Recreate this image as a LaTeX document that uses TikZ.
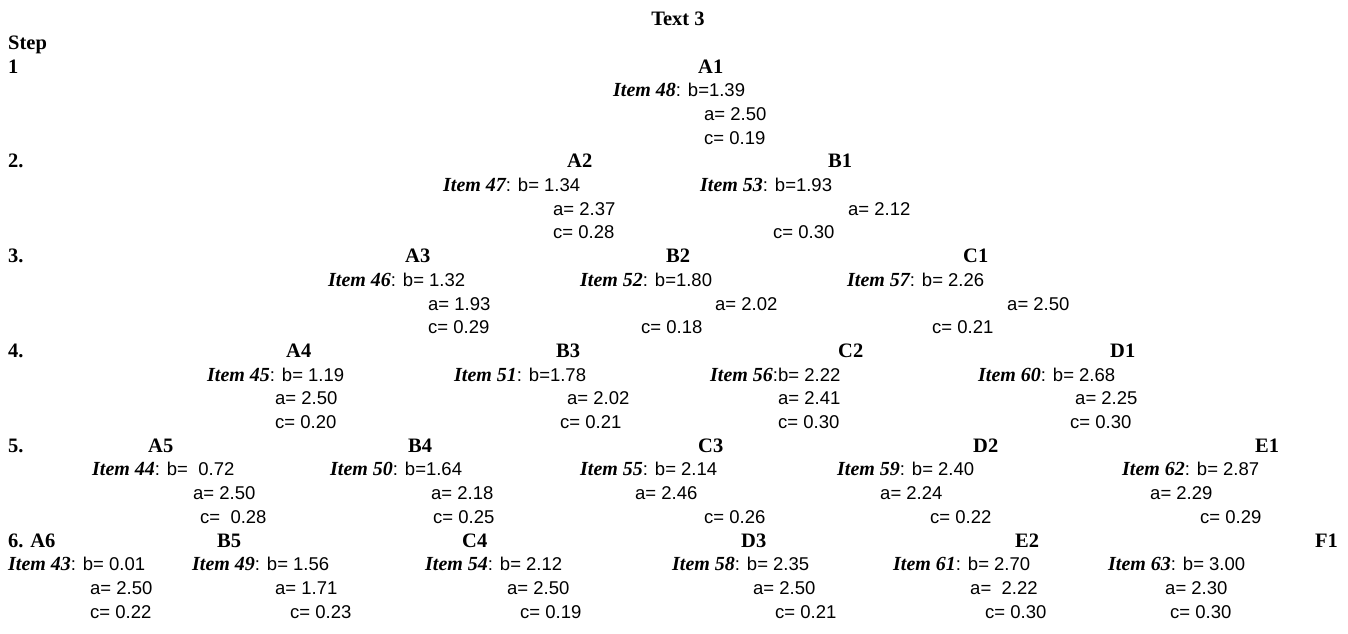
\documentclass[tikz,border=0pt]{standalone}
\usepackage{fontspec}
\setmainfont{Liberation Serif}
\newfontfamily\valfont{Liberation Sans}
\tikzset{
  hd/.style={anchor=base west, inner sep=0pt, font=\rmfamily\bfseries\fontsize{20.5}{22}\selectfont},
  vl/.style={anchor=base west, inner sep=0pt, font=\valfont\fontsize{18.5}{22}\selectfont},
}
\newcommand{\itm}[1]{{\rmfamily\bfseries\itshape\fontsize{20}{22}\selectfont Item #1}}
\begin{document}
\begin{tikzpicture}[x=1pt,y=-1pt]
\useasboundingbox[fill=white] (0,0) rectangle (1348,633);
\node[hd,anchor=base] (title) at (678,25.6) {Text 3};
\node[hd] (step) at (8,49.3) {Step};
% step labels
\node[hd] (s1) at (8,73) {1};
\node[hd] (s2) at (8,167.8) {2.};
\node[hd] (s3) at (8,262.6) {3.};
\node[hd] (s4) at (8,357.4) {4.};
\node[hd] (s5) at (8,452.2) {5.};
\node[hd] (s6) at (8,547) {6. A6};
% step 1
\node[hd] (A1) at (698,73) {A1};
\node[vl] (A1i) at (613,96.7) {\itm{48}: b=1.39};
\node[vl] (A1a) at (704,120.4) {a= 2.50};
\node[vl] (A1c) at (704,144.1) {c= 0.19};
% step 2
\node[hd] (A2) at (567,167.8) {A2};
\node[vl] (A2i) at (443,191.5) {\itm{47}: b= 1.34};
\node[vl] (A2a) at (553,215.2) {a= 2.37};
\node[vl] (A2c) at (553,238.9) {c= 0.28};
\node[hd] (B1) at (828,167.8) {B1};
\node[vl] (B1i) at (700,191.5) {\itm{53}: b=1.93};
\node[vl] (B1a) at (848,215.2) {a= 2.12};
\node[vl] (B1c) at (773,238.9) {c= 0.30};
% step 3
\node[hd] (A3) at (405,262.6) {A3};
\node[vl] (A3i) at (328,286.3) {\itm{46}: b= 1.32};
\node[vl] (A3a) at (428,310) {a= 1.93};
\node[vl] (A3c) at (428,333.7) {c= 0.29};
\node[hd] (B2) at (666,262.6) {B2};
\node[vl] (B2i) at (580,286.3) {\itm{52}: b=1.80};
\node[vl] (B2a) at (715,310) {a= 2.02};
\node[vl] (B2c) at (641,333.7) {c= 0.18};
\node[hd] (C1) at (963,262.6) {C1};
\node[vl] (C1i) at (847,286.3) {\itm{57}: b= 2.26};
\node[vl] (C1a) at (1007,310) {a= 2.50};
\node[vl] (C1c) at (932,333.7) {c= 0.21};
% step 4
\node[hd] (A4) at (286,357.4) {A4};
\node[vl] (A4i) at (207,381.1) {\itm{45}: b= 1.19};
\node[vl] (A4a) at (275,404.8) {a= 2.50};
\node[vl] (A4c) at (275,428.5) {c= 0.20};
\node[hd] (B3) at (556,357.4) {B3};
\node[vl] (B3i) at (454,381.1) {\itm{51}: b=1.78};
\node[vl] (B3a) at (567,404.8) {a= 2.02};
\node[vl] (B3c) at (560,428.5) {c= 0.21};
\node[hd] (C2) at (838,357.4) {C2};
\node[vl] (C2i) at (710,381.1) {\itm{56}:b= 2.22};
\node[vl] (C2a) at (778,404.8) {a= 2.41};
\node[vl] (C2c) at (778,428.5) {c= 0.30};
\node[hd] (D1) at (1110,357.4) {D1};
\node[vl] (D1i) at (978,381.1) {\itm{60}: b= 2.68};
\node[vl] (D1a) at (1075,404.8) {a= 2.25};
\node[vl] (D1c) at (1070,428.5) {c= 0.30};
% step 5
\node[hd] (A5) at (148,452.2) {A5};
\node[vl] (A5i) at (92,475.9) {\itm{44}: b=~ 0.72};
\node[vl] (A5a) at (193,499.6) {a= 2.50};
\node[vl] (A5c) at (200,523.3) {c=~ 0.28};
\node[hd] (B4) at (408,452.2) {B4};
\node[vl] (B4i) at (330,475.9) {\itm{50}: b=1.64};
\node[vl] (B4a) at (431,499.6) {a= 2.18};
\node[vl] (B4c) at (433,523.3) {c= 0.25};
\node[hd] (C3) at (698,452.2) {C3};
\node[vl] (C3i) at (580,475.9) {\itm{55}: b= 2.14};
\node[vl] (C3a) at (635,499.6) {a= 2.46};
\node[vl] (C3c) at (704,523.3) {c= 0.26};
\node[hd] (D2) at (973,452.2) {D2};
\node[vl] (D2i) at (837,475.9) {\itm{59}: b= 2.40};
\node[vl] (D2a) at (880,499.6) {a= 2.24};
\node[vl] (D2c) at (930,523.3) {c= 0.22};
\node[hd] (E1) at (1255,452.2) {E1};
\node[vl] (E1i) at (1122,475.9) {\itm{62}: b= 2.87};
\node[vl] (E1a) at (1150,499.6) {a= 2.29};
\node[vl] (E1c) at (1200,523.3) {c= 0.29};
% step 6
\node[vl] (A6i) at (8,570.7) {\itm{43}: b= 0.01};
\node[vl] (A6a) at (90,594.4) {a= 2.50};
\node[vl] (A6c) at (90,618.1) {c= 0.22};
\node[hd] (B5) at (217,547) {B5};
\node[vl] (B5i) at (192,570.7) {\itm{49}: b= 1.56};
\node[vl] (B5a) at (275,594.4) {a= 1.71};
\node[vl] (B5c) at (290,618.1) {c= 0.23};
\node[hd] (C4) at (462,547) {C4};
\node[vl] (C4i) at (425,570.7) {\itm{54}: b= 2.12};
\node[vl] (C4a) at (507,594.4) {a= 2.50};
\node[vl] (C4c) at (520,618.1) {c= 0.19};
\node[hd] (D3) at (741,547) {D3};
\node[vl] (D3i) at (672,570.7) {\itm{58}: b= 2.35};
\node[vl] (D3a) at (753,594.4) {a= 2.50};
\node[vl] (D3c) at (775,618.1) {c= 0.21};
\node[hd] (E2) at (1015,547) {E2};
\node[vl] (E2i) at (893,570.7) {\itm{61}: b= 2.70};
\node[vl] (E2a) at (970,594.4) {a=~ 2.22};
\node[vl] (E2c) at (985,618.1) {c= 0.30};
\node[hd] (F1) at (1315,547) {F1};
\node[vl] (F1i) at (1108,570.7) {\itm{63}: b= 3.00};
\node[vl] (F1a) at (1165,594.4) {a= 2.30};
\node[vl] (F1c) at (1170,618.1) {c= 0.30};
\end{tikzpicture}
\end{document}
